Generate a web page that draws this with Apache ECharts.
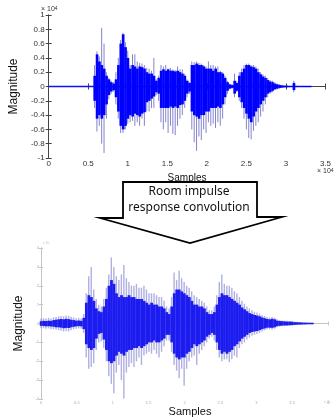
<!DOCTYPE html>
<html>
<head>
<meta charset="utf-8">
<script src="https://cdn.jsdelivr.net/npm/echarts@6/dist/echarts.min.js"></script>
<style>
html,body{margin:0;padding:0;background:#fff;}
#c{width:334px;height:418px;}
</style>
</head>
<body>
<div id="c"></div>
<script>
// ---------- top plot: dry speech (samples, magnitude x1e4) ----------
const topStart = 5800;   // first envelope column (samples)
const topStep = 300;     // samples between envelope columns
const topFlat = [[0, 0], [33200, 0]];
const topCoreHi = [0.15,0.45,0.35,0.3,0.25,0.15,0.1,0.06,0.04,0.1,0.3,0.6,0.73,0.55,0.4,0.25,0.3,0.28,0.25,0.28,0.27,0.25,0.2,0.18,0.18,0.15,0.08,0.12,0.22,0.24,0.22,0.24,0.22,0.22,0.21,0.22,0.2,0.18,0.15,0.08,0.05,0.3,0.3,0.32,0.3,0.3,0.28,0.25,0.25,0.25,0.22,0.25,0.2,0.2,0.18,0.12,0.06,0.03,0.02,0.08,0.05,0.15,0.2,0.25,0.3,0.3,0.28,0.27,0.25,0.2,0.17,0.14,0.12,0.09,0.07,0.06,0.04,0.03,0.02,0.015,0.01,0.01,0.005,0.005,0.05,0.005,0.003,0.003,0.003,0.003,0.003,0.003];
const topCoreLo = [-0.2,-0.45,-0.4,-0.45,-0.4,-0.25,-0.12,-0.07,-0.05,-0.15,-0.35,-0.55,-0.6,-0.55,-0.45,-0.4,-0.42,-0.38,-0.4,-0.42,-0.38,-0.36,-0.22,-0.2,-0.17,-0.14,-0.08,-0.1,-0.3,-0.3,-0.3,-0.3,-0.28,-0.3,-0.28,-0.3,-0.26,-0.25,-0.2,-0.1,-0.07,-0.35,-0.4,-0.42,-0.45,-0.4,-0.4,-0.35,-0.35,-0.3,-0.3,-0.3,-0.28,-0.3,-0.25,-0.15,-0.06,-0.03,-0.02,-0.1,-0.06,-0.15,-0.22,-0.3,-0.38,-0.45,-0.5,-0.42,-0.35,-0.3,-0.25,-0.2,-0.15,-0.1,-0.08,-0.06,-0.04,-0.03,-0.02,-0.015,-0.01,-0.01,-0.005,-0.005,-0.05,-0.005,-0.003,-0.003,-0.003,-0.003,-0.003,-0.003];
const topSpikeHi = [0.3,0.49,0.42,0.82,0.6,0.2,0.12,0.08,0.06,0.2,0.4,0.65,0.75,0.62,0.5,0.3,0.45,0.45,0.35,0.33,0.32,0.3,0.26,0.25,0.22,0.4,0.1,0.15,0.3,0.28,0.3,0.25,0.26,0.24,0.23,0.28,0.24,0.24,0.18,0.1,0.06,0.35,0.34,0.35,0.33,0.32,0.3,0.28,0.35,0.3,0.3,0.28,0.28,0.22,0.2,0.15,0.08,0.04,0.03,0.18,0.08,0.2,0.25,0.3,0.32,0.32,0.3,0.3,0.28,0.25,0.2,0.17,0.15,0.12,0.09,0.08,0.06,0.04,0.03,0.02,0.015,0.01,0.008,0.008,0.08,0.01,0.004,0.004,0.004,0.004,0.004,0.004];
const topSpikeLo = [-0.3,-0.63,-0.55,-0.8,-0.93,-0.45,-0.18,-0.1,-0.07,-0.25,-0.45,-0.65,-0.65,-0.6,-0.52,-0.5,-0.48,-0.55,-0.5,-0.55,-0.45,-0.55,-0.35,-0.35,-0.3,-0.3,-0.12,-0.2,-0.5,-0.6,-0.5,-0.65,-0.55,-0.66,-0.68,-0.55,-0.45,-0.4,-0.3,-0.15,-0.1,-0.6,-0.78,-0.9,-0.7,-0.75,-0.6,-0.65,-0.5,-0.55,-0.52,-0.58,-0.5,-0.55,-0.45,-0.25,-0.1,-0.04,-0.03,-0.15,-0.08,-0.2,-0.3,-0.45,-0.6,-0.72,-0.74,-0.62,-0.55,-0.5,-0.42,-0.35,-0.25,-0.15,-0.1,-0.08,-0.05,-0.04,-0.03,-0.02,-0.015,-0.01,-0.008,-0.008,-0.08,-0.01,-0.004,-0.004,-0.004,-0.004,-0.004,-0.004];

// ---------- bottom plot: reverberant speech ----------
const botStart = 0;
const botStep = 350;
const botCoreHi = [0.12,0.14,0.13,0.15,0.14,0.18,0.2,0.22,0.24,0.22,0.25,0.23,0.2,0.18,0.15,0.16,0.14,0.3,1.1,1.5,1.4,1.2,0.8,0.65,0.6,0.9,1.3,2.0,2.3,2.1,1.6,1.4,1.5,1.4,1.4,1.5,1.4,1.4,1.3,1.3,1.3,1.2,1.1,1.0,1.1,1.0,1.0,0.9,0.9,0.8,0.6,0.5,0.9,1.6,1.8,1.8,1.7,1.6,1.5,1.4,1.2,1.0,1.0,0.9,0.9,0.8,0.6,0.5,0.5,0.6,1.0,1.4,1.6,1.5,1.5,1.4,1.3,1.2,1.1,1.0,0.85,0.75,0.65,0.55,0.5,0.45,0.42,0.38,0.32,0.28,0.24,0.22,0.25,0.22,0.15,0.13,0.12,0.11,0.1,0.1,0.09,0.07,0.065,0.06,0.05,0.045,0.04,0.035,0.03];
const botCoreLo = [-0.12,-0.13,-0.15,-0.14,-0.16,-0.17,-0.2,-0.2,-0.22,-0.25,-0.23,-0.24,-0.2,-0.17,-0.15,-0.14,-0.15,-0.3,-1.1,-1.3,-1.4,-1.3,-0.8,-0.55,-0.5,-0.85,-1.4,-2.0,-2.1,-2.0,-1.7,-1.5,-1.6,-1.7,-1.5,-1.4,-1.4,-1.3,-1.3,-1.2,-1.3,-1.2,-1.1,-1.0,-1.0,-0.9,-1.0,-1.0,-0.9,-0.8,-0.6,-0.6,-1.0,-1.6,-1.8,-1.9,-1.8,-1.8,-1.6,-1.5,-1.3,-1.1,-1.2,-1.1,-1.0,-0.9,-0.7,-0.6,-0.5,-0.6,-1.0,-1.4,-1.6,-1.5,-1.6,-1.5,-1.4,-1.2,-1.1,-0.95,-0.8,-0.7,-0.6,-0.5,-0.45,-0.42,-0.4,-0.35,-0.3,-0.26,-0.22,-0.22,-0.23,-0.2,-0.14,-0.12,-0.11,-0.1,-0.1,-0.09,-0.08,-0.07,-0.06,-0.055,-0.05,-0.045,-0.04,-0.035,-0.03];
const botSpikeHi = [0.25,0.28,0.26,0.3,0.27,0.32,0.35,0.38,0.4,0.38,0.42,0.4,0.36,0.32,0.28,0.3,0.26,0.5,1.6,2.5,3.0,1.8,1.3,1.0,0.9,1.3,1.9,2.6,3.5,3.0,2.5,2.3,2.6,3.1,2.4,2.2,2.0,2.0,2.1,1.9,1.9,2.0,1.8,1.6,1.6,1.6,1.5,1.4,1.4,1.2,0.9,0.8,1.4,2.7,2.3,2.8,2.4,2.2,2.0,1.9,1.7,1.5,1.4,1.3,1.2,1.1,0.9,0.7,0.7,0.9,1.5,2.2,2.6,2.1,2.0,2.0,1.9,1.7,1.6,1.4,1.2,1.05,0.9,0.8,0.7,0.62,0.58,0.52,0.45,0.4,0.34,0.32,0.35,0.3,0.22,0.18,0.16,0.15,0.14,0.13,0.12,0.1,0.09,0.08,0.07,0.06,0.05,0.045,0.04];
const botSpikeLo = [-0.22,-0.25,-0.28,-0.26,-0.3,-0.3,-0.33,-0.35,-0.38,-0.42,-0.4,-0.42,-0.36,-0.3,-0.28,-0.26,-0.27,-0.5,-1.8,-2.4,-2.3,-2.1,-1.4,-1.0,-0.95,-1.3,-2.0,-2.8,-3.2,-3.7,-2.6,-2.2,-3.0,-3.97,-2.6,-2.3,-2.1,-2.3,-2.0,-1.8,-2.2,-1.7,-1.6,-1.5,-1.6,-1.4,-1.6,-1.8,-1.5,-1.2,-0.9,-0.9,-1.5,-2.2,-2.5,-2.9,-2.4,-3.3,-2.4,-2.0,-1.8,-1.7,-2.2,-1.6,-1.4,-1.2,-1.0,-0.8,-0.7,-0.9,-1.4,-1.8,-2.0,-1.9,-1.9,-2.05,-1.9,-1.7,-1.8,-1.3,-1.1,-1.0,-0.85,-0.75,-0.65,-0.6,-0.55,-0.5,-0.42,-0.37,-0.32,-0.3,-0.33,-0.28,-0.2,-0.17,-0.15,-0.14,-0.13,-0.12,-0.11,-0.09,-0.08,-0.075,-0.065,-0.06,-0.05,-0.045,-0.04];

// tick labels
const topXTicks = ['0','0.5','1','1.5','2','2.5','3','3.5'];
const botXTicks = ['0','0.5','1','1.5','2','2.5','3','3.5','4'];

function cols(start, step, lo, hi) {
  return hi.map((h, i) => [start + i * step, lo[i], h]);
}

const AX = 'Liberation Sans';

function rectItem(color, step, minH) {
  return function (params, api) {
    const x = api.value(0), lo = api.value(1), hi = api.value(2);
    const p1 = api.coord([x, hi]);
    const p2 = api.coord([x, lo]);
    const w = api.size([step, 0])[0];
    let h = p2[1] - p1[1];
    let y = p1[1];
    if (h < minH) { y = (p1[1] + p2[1]) / 2 - minH / 2; h = minH; }
    return { type: 'rect', shape: { x: p1[0] - w / 2, y: y, width: w + 0.3, height: h }, style: { fill: color } };
  };
}
function lineItem(color, width) {
  return function (params, api) {
    const x = api.value(0), lo = api.value(1), hi = api.value(2);
    const p1 = api.coord([x, hi]);
    const p2 = api.coord([x, lo]);
    return { type: 'line', shape: { x1: p1[0], y1: p1[1], x2: p2[0], y2: p2[1] }, style: { stroke: color, lineWidth: width } };
  };
}

const chart = echarts.init(document.getElementById('c'), null, { renderer: 'canvas' });

const topAxisColor = '#444';
const botAxisColor = '#c4c4c4';

chart.setOption({
  animation: false,
  backgroundColor: '#fff',
  grid: [
    { left: 40, top: 15, width: 289, height: 143 },
    { left: 41, top: 248, width: 287, height: 151 }
  ],
  xAxis: [
    { gridIndex: 0, type: 'value', min: 0, max: 35000, interval: 5000, position: 'bottom',
      axisLine: { lineStyle: { color: topAxisColor, width: 1 } },
      axisTick: { inside: true, length: 3, lineStyle: { color: topAxisColor } },
      axisLabel: { fontSize: 8, color: '#333', fontFamily: AX, margin: 2,
        formatter: (v) => topXTicks[Math.round(v / 5000)] },
      splitLine: { show: false },
      name: 'Samples', nameLocation: 'middle', nameGap: 15,
      nameTextStyle: { fontSize: 10, color: '#111', fontFamily: AX } },
    { gridIndex: 0, type: 'value', min: 0, max: 35000, interval: 5000, position: 'top',
      axisLine: { lineStyle: { color: topAxisColor, width: 1 } },
      axisTick: { inside: true, length: 3, lineStyle: { color: topAxisColor } },
      axisLabel: { show: false }, splitLine: { show: false } },
    { gridIndex: 1, type: 'value', min: 0, max: 40000, interval: 5000, position: 'bottom',
      axisLine: { lineStyle: { color: botAxisColor, width: 1 } },
      axisTick: { inside: true, length: 2, lineStyle: { color: botAxisColor } },
      axisLabel: { fontSize: 4, color: '#aaa', fontFamily: AX, margin: 2,
        formatter: (v) => botXTicks[Math.round(v / 5000)] },
      splitLine: { show: false },
      name: 'Samples', nameLocation: 'middle', nameGap: 7,
      nameTextStyle: { fontSize: 11, color: '#111', fontFamily: AX, padding: [0, 0, 0, 11] } },
    { gridIndex: 1, type: 'value', min: 0, max: 40000, interval: 5000, position: 'top',
      axisLine: { lineStyle: { color: botAxisColor, width: 1 } },
      axisTick: { inside: true, length: 2, lineStyle: { color: botAxisColor } },
      axisLabel: { show: false }, splitLine: { show: false } }
  ],
  yAxis: [
    { gridIndex: 0, type: 'value', min: -1, max: 1, interval: 0.2, position: 'left',
      axisLine: { show: true, lineStyle: { color: topAxisColor, width: 1 } },
      axisTick: { show: true, inside: true, length: 3, lineStyle: { color: topAxisColor } },
      axisLabel: { fontSize: 8, color: '#333', fontFamily: AX, margin: 4 },
      splitLine: { show: false },
      name: 'Magnitude', nameLocation: 'middle', nameGap: 21,
      nameTextStyle: { fontSize: 12, color: '#111', fontFamily: AX } },
    { gridIndex: 0, type: 'value', min: -1, max: 1, interval: 0.2, position: 'right',
      axisLine: { show: true, lineStyle: { color: topAxisColor, width: 1 } },
      axisTick: { show: true, inside: true, length: 3, lineStyle: { color: topAxisColor } },
      axisLabel: { show: false }, splitLine: { show: false } },
    { gridIndex: 1, type: 'value', min: -4, max: 4, interval: 1, position: 'left',
      axisLine: { show: true, lineStyle: { color: botAxisColor, width: 1 } },
      axisTick: { show: true, inside: true, length: 2, lineStyle: { color: botAxisColor } },
      axisLabel: { fontSize: 4, color: '#aaa', fontFamily: AX, margin: 2 },
      splitLine: { show: false },
      name: 'Magnitude', nameLocation: 'middle', nameGap: 4,
      nameTextStyle: { fontSize: 12, color: '#111', fontFamily: AX } },
    { gridIndex: 1, type: 'value', min: -4, max: 4, interval: 1, position: 'right',
      axisLine: { show: true, lineStyle: { color: botAxisColor, width: 1 } },
      axisTick: { show: true, inside: true, length: 2, lineStyle: { color: botAxisColor } },
      axisLabel: { show: false }, splitLine: { show: false } }
  ],
  series: [
    { type: 'line', xAxisIndex: 0, yAxisIndex: 0, data: topFlat, symbol: 'none',
      lineStyle: { color: '#1010ff', width: 1.3 }, z: 2 },
    { type: 'custom', xAxisIndex: 0, yAxisIndex: 0, z: 3,
      data: cols(topStart, topStep, topSpikeLo, topSpikeHi),
      renderItem: lineItem('rgba(90,90,190,0.75)', 1), encode: { x: 0, y: [1, 2] } },
    { type: 'custom', xAxisIndex: 0, yAxisIndex: 0, z: 4,
      data: cols(topStart, topStep, topCoreLo, topCoreHi),
      renderItem: rectItem('#0000ff', topStep, 1), encode: { x: 0, y: [1, 2] } },
    { type: 'custom', xAxisIndex: 2, yAxisIndex: 2, z: 3,
      data: cols(botStart, botStep, botSpikeLo, botSpikeHi),
      renderItem: lineItem('rgba(110,110,200,0.55)', 1.4), encode: { x: 0, y: [1, 2] } },
    { type: 'custom', xAxisIndex: 2, yAxisIndex: 2, z: 4,
      data: cols(botStart, botStep, botCoreLo, botCoreHi),
      renderItem: rectItem('#1c1cf0', botStep, 1.5), encode: { x: 0, y: [1, 2] } }
  ],
  graphic: [
    { type: 'text', left: 41, top: 6, style: { text: '× 10{s|4}', fontSize: 7, fill: '#333', fontFamily: AX,
      rich: { s: { fontSize: 5, verticalAlign: 'top', fill: '#333', fontFamily: AX } } } },
    { type: 'text', left: 317, top: 168, style: { text: '× 10{s|4}', fontSize: 7, fill: '#333', fontFamily: AX,
      rich: { s: { fontSize: 5, verticalAlign: 'top', fill: '#333', fontFamily: AX } } } },
    { type: 'text', left: 43, top: 242, style: { text: 'x 10{s|4}', fontSize: 3, fill: '#bbb', fontFamily: AX,
      rich: { s: { fontSize: 2, fill: '#bbb' } } } },
    { type: 'text', left: 324, top: 401, style: { text: 'x 10{s|4}', fontSize: 3, fill: '#bbb', fontFamily: AX,
      rich: { s: { fontSize: 2, fill: '#bbb' } } } },
    { type: 'polygon', z: 10,
      shape: { points: [[123, 182], [257, 182], [257, 217], [282, 217], [190, 243], [100, 218], [123, 218]] },
      style: { fill: '#fff', stroke: '#000', lineWidth: 1.8 } },
    { type: 'text', z: 11, x: 189, y: 192, style: { text: 'Room impulse', fontSize: 12, fill: '#111',
      fontFamily: 'Noto Sans', align: 'center', verticalAlign: 'middle' } },
    { type: 'text', z: 11, x: 189, y: 208, style: { text: 'response convolution', fontSize: 12, fill: '#111',
      fontFamily: 'Noto Sans', align: 'center', verticalAlign: 'middle' } }
  ]
});
</script>
</body>
</html>
